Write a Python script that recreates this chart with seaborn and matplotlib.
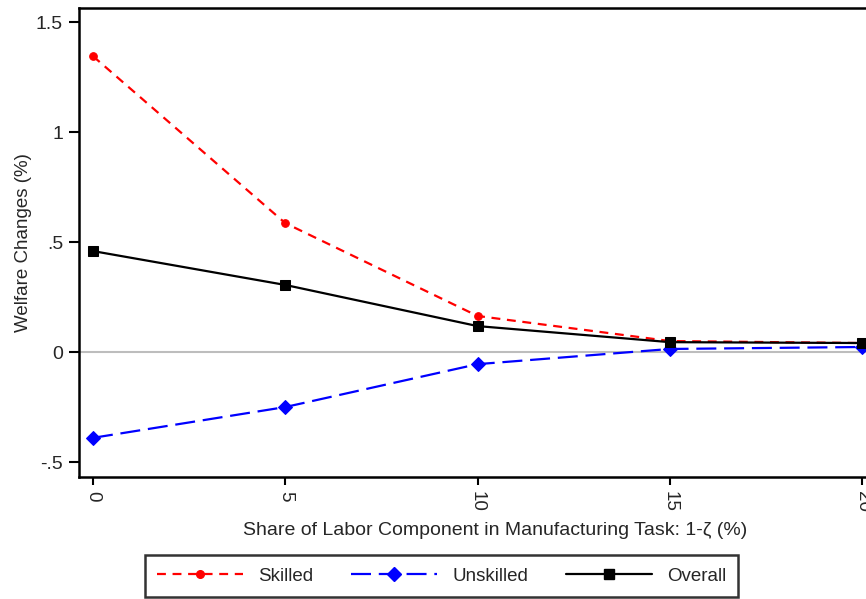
import numpy as np
import pandas as pd
import matplotlib
matplotlib.use("Agg")
import matplotlib.pyplot as plt
import seaborn as sns
from matplotlib.lines import Line2D

share = [0, 5, 10, 15, 20]
skilled = [1.345, 0.586, 0.164, 0.050, 0.041]
unskilled = [-0.39, -0.25, -0.055, 0.014, 0.023]
overall = [0.459, 0.305, 0.118, 0.045, 0.041]
series_names = ["Skilled", "Unskilled", "Overall"]
yticks = [-0.5, 0, 0.5, 1, 1.5]
ytick_labels = ["-.5", "0", ".5", "1", "1.5"]
xticks = [0, 5, 10, 15, 20]

df = pd.DataFrame({
    "x": share * 3,
    "y": skilled + unskilled + overall,
    "series": [s for s in series_names for _ in share],
})

sns.set_theme(style="white")
plt.rcParams["font.family"] = ["Liberation Sans", "DejaVu Sans"]

fig = plt.figure(figsize=(8.66, 5.99), dpi=100)
ax = fig.add_axes([79 / 866, (599 - 477) / 599, 832 / 866, 469 / 599])

palette = {"Skilled": "#ff0000", "Unskilled": "#0000ff", "Overall": "#000000"}
markers = {"Skilled": "o", "Unskilled": "D", "Overall": "s"}
dashes = {"Skilled": (4, 3), "Unskilled": (9, 3.5), "Overall": ""}
msizes = {"Skilled": 5.5, "Unskilled": 7, "Overall": 6.5}

ax.axhline(0, color="#bdbdbd", lw=1.5, zorder=1)

for name in series_names:
    sub = df[df["series"] == name]
    sns.lineplot(data=sub, x="x", y="y", ax=ax, color=palette[name],
                 marker=markers[name], markersize=msizes[name],
                 markeredgecolor=palette[name], linewidth=1.6,
                 dashes=False, legend=False, zorder=3)
    line = ax.get_lines()[-1]
    if dashes[name]:
        line.set_dashes(dashes[name])

ax.set_xlim(-0.364, 21.27)
ax.set_ylim(-0.568, 1.564)
ax.set_xticks(xticks)
ax.set_xticklabels([str(v) for v in xticks], rotation=270, fontsize=13.5)
ax.set_yticks(yticks)
ax.set_yticklabels(ytick_labels, fontsize=14)
ax.tick_params(axis="y", direction="out", length=7.2, width=1.5, color="black",
               left=True, pad=4.3)
ax.tick_params(axis="x", direction="out", length=6, width=1.5, color="black",
               bottom=True, pad=4.3)
for sp in ax.spines.values():
    sp.set_color("black")
    sp.set_linewidth(1.8)
ax.grid(False)
ax.set_xlabel("Share of Labor Component in Manufacturing Task: 1-ζ (%)", fontsize=14, labelpad=7)
ax.set_ylabel("Welfare Changes (%)", fontsize=13.5)
ax.yaxis.set_label_coords((32 - 79) / 832, 0.5)

handles = []
for name in series_names:
    h = Line2D([0], [0], color=palette[name], marker=markers[name],
               markersize=msizes[name], lw=1.6)
    if dashes[name]:
        h.set_dashes(dashes[name])
    handles.append(h)
leg = fig.legend(handles, series_names, loc="center", bbox_to_anchor=(441.5 / 866, 0.038),
                 ncol=3, frameon=True, fancybox=False, fontsize=13.5,
                 handlelength=4.6, columnspacing=2.0, handletextpad=0.8,
                 borderpad=0.65)
leg.get_frame().set_edgecolor("black")
leg.get_frame().set_linewidth(1.8)

fig.savefig("out.png", dpi=100)
